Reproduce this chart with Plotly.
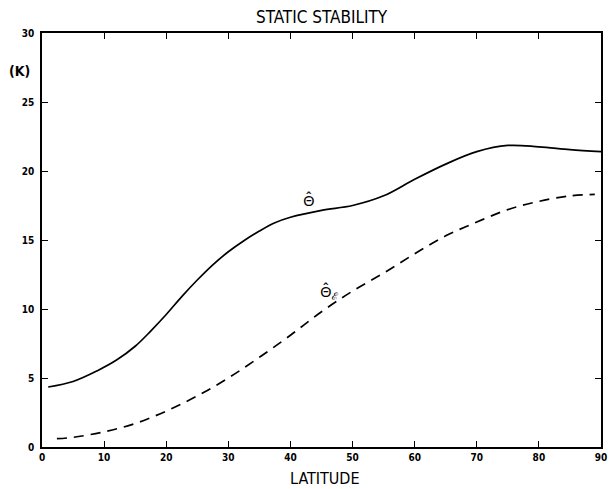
import plotly.graph_objects as go

lat_theta = [1, 5, 9, 12, 15, 17.5, 20, 22.5, 25, 27.5, 30, 32.5, 35, 37.5, 40, 45, 50, 55, 60, 65, 70, 75, 80, 85, 90]
theta = [4.35, 4.75, 5.55, 6.3, 7.3, 8.4, 9.6, 10.9, 12.1, 13.2, 14.15, 14.95, 15.65, 16.25, 16.65, 17.15, 17.5,
         18.2, 19.4, 20.5, 21.4, 21.85, 21.75, 21.55, 21.4]

lat_theta_e = [2.4, 5, 10, 15, 20, 25, 30, 35, 40, 45, 50, 55, 60, 65, 70, 75, 80, 85, 89]
theta_e = [0.6, 0.7, 1.1, 1.7, 2.6, 3.7, 5.0, 6.5, 8.1, 9.8, 11.3, 12.6, 14.0, 15.3, 16.3, 17.2, 17.8, 18.2, 18.3]

x_ticks = [0, 10, 20, 30, 40, 50, 60, 70, 80, 90]
x_tick_labels = ["0", "10", "20", "30", "40", "50", "60", "70", "80", "90"]
y_ticks = [0, 5, 10, 15, 20, 25, 30]
y_tick_labels = ["0", "5", "10", "15", "20", "25", "30"]

fig = go.Figure()
fig.add_trace(go.Scatter(x=lat_theta, y=theta, mode="lines",
                         line=dict(color="black", width=1.7, shape="spline", smoothing=1.0), showlegend=False))
fig.add_trace(go.Scatter(x=lat_theta_e, y=theta_e, mode="lines",
                         line=dict(color="black", width=1.7, shape="spline", dash="10px,7px"), showlegend=False))

font = "Noto Sans"
cfont = "DejaVu Sans Condensed"
axis_common = dict(showline=True, linecolor="black", linewidth=1.6, mirror="ticks", ticks="inside", ticklen=6,
                   tickcolor="black", tickwidth=1.4, showgrid=False, zeroline=False,
                   tickfont=dict(family=cfont, size=10, color="black"))

W, H = 612, 489
l, r, t, b = 42, 5, 33, 42
pw, ph = W - l - r, H - t - b


def px(xp):
    return (xp - l) / pw


def py(yp):
    return (H - b - yp) / ph


def lab(text, x, y, size, family=cfont):
    return dict(text=text, x=x, y=y, xref="x", yref="y", showarrow=False, xanchor="center", yanchor="middle",
                font=dict(family=family, size=size, color="black"))


fig.update_layout(
    width=W, height=H,
    margin=dict(l=l, r=r, t=t, b=b),
    paper_bgcolor="white", plot_bgcolor="white",
    xaxis=dict(range=[0, 90], tickvals=x_ticks, ticktext=["<b>%s</b>" % s for s in x_tick_labels], **axis_common),
    yaxis=dict(range=[0, 30], tickvals=y_ticks, ticktext=["<b>%s</b>" % s for s in y_tick_labels],
               ticklabelstandoff=4, **axis_common),
    annotations=[
        dict(text="STATIC STABILITY", x=px(325), y=py(17), xref="paper", yref="paper", showarrow=False,
             xanchor="center", yanchor="middle", font=dict(family=cfont, size=17, color="black")),
        dict(text="LATITUDE", x=px(328), y=py(479), xref="paper", yref="paper", showarrow=False,
             xanchor="center", yanchor="middle", font=dict(family=cfont, size=16, color="black")),
        dict(text="<b>(K)</b>", x=px(19), y=py(71), xref="paper", yref="paper", showarrow=False,
             xanchor="center", yanchor="middle", font=dict(family=cfont, size=14, color="black")),
        lab("\u0398\u0302", 43, 17.9, 15, font),
        lab("\u0398\u0302<sub>\u2130</sub>", 46.3, 11.2, 15, font),
    ],
)

fig.write_html("out.html")
